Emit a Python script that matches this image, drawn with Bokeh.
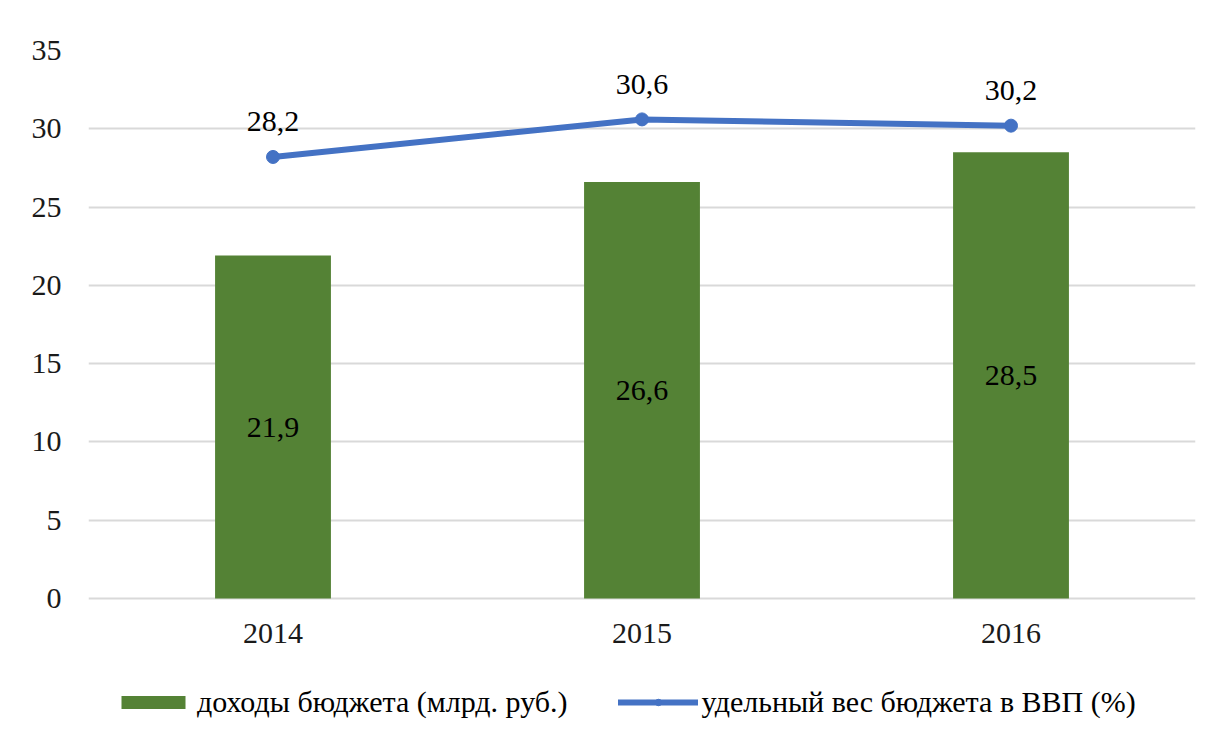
from bokeh.plotting import figure
from bokeh.models import Range1d, FixedTicker, Legend, LegendItem, ColumnDataSource, FactorRange
from bokeh.core.properties import value
from bokeh.embed import file_html
from bokeh.resources import INLINE

years = ["2014", "2015", "2016"]
revenue = [21.9, 26.6, 28.5]
gdp_share = [28.2, 30.6, 30.2]
y_ticks = [0, 5, 10, 15, 20, 25, 30, 35]
series_names = ["доходы бюджета (млрд. руб.)", "удельный вес бюджета в ВВП (%)"]

FONT = "Liberation Serif"
FS = "30px"
GREEN = "#548235"
BLUE = "#4472C4"

def fmt(v):
    return f"{v:.1f}".replace(".", ",")

# plotting area: 548 px for 0..35, extended downward to hold category labels and legend
PLOT_PX = 548
FRAME_PX = 680
y_top = 35
y_bottom = -(FRAME_PX - PLOT_PX) * y_top / PLOT_PX

src = ColumnDataSource(dict(
    x=years, rev=revenue, rev_mid=[v / 2 for v in revenue],
    rev_lbl=[fmt(v) for v in revenue],
    share=gdp_share, share_lbl=[fmt(v) for v in gdp_share],
))

p = figure(x_range=FactorRange(*years, range_padding=0), y_range=Range1d(y_bottom, y_top),
           frame_width=1107, frame_height=FRAME_PX, output_backend="svg", toolbar_location=None,
           min_border_left=88, min_border_right=8, min_border_top=50, min_border_bottom=0)
p.outline_line_color = None
p.background_fill_color = "white"
p.border_fill_color = "white"

bars = p.vbar(x="x", top="rev", width=0.314, source=src, fill_color=GREEN, line_color=None)
line = p.line(x="x", y="share", source=src, line_color=BLUE, line_width=6, line_cap="round")
pts = p.scatter(x="x", y="share", source=src, size=13, fill_color=BLUE, line_color=BLUE)

p.text(x="x", y="rev_mid", text="rev_lbl", source=src, text_font=value(FONT),
       text_font_size=FS, text_align="center", text_baseline="middle", text_color="#000000")
p.text(x="x", y="share", text="share_lbl", source=src, text_font=value(FONT),
       text_font_size=FS, text_align="center", text_baseline="middle", text_color="#000000",
       y_offset=-35)

p.yaxis.ticker = FixedTicker(ticks=y_ticks)
for ax in (p.xaxis, p.yaxis):
    ax.axis_line_color = None
    ax.major_tick_line_color = None
    ax.minor_tick_line_color = None
    ax.major_tick_out = 0
    ax.major_tick_in = 0
    ax.major_label_text_font = FONT
    ax.major_label_text_font_size = FS
    ax.major_label_text_color = "#1a1a1a"
p.yaxis.major_label_standoff = 27
p.xaxis.major_label_standoff = 25
p.xaxis.fixed_location = 0
p.xgrid.grid_line_color = None
p.ygrid.grid_line_color = "#d9d9d9"
p.ygrid.grid_line_width = 2

legend = Legend(items=[LegendItem(label=series_names[0], renderers=[bars]),
                       LegendItem(label=series_names[1], renderers=[line, pts])],
                orientation="horizontal", location=(25, 11),
                label_text_font=FONT, label_text_font_size=FS, label_text_color="#000000",
                glyph_width=80, glyph_height=16, spacing=50, label_standoff=4,
                border_line_color=None, background_fill_alpha=0,
                margin=0, padding=4)
p.add_layout(legend, "center")

open("out.html", "w").write(file_html(p, INLINE))
